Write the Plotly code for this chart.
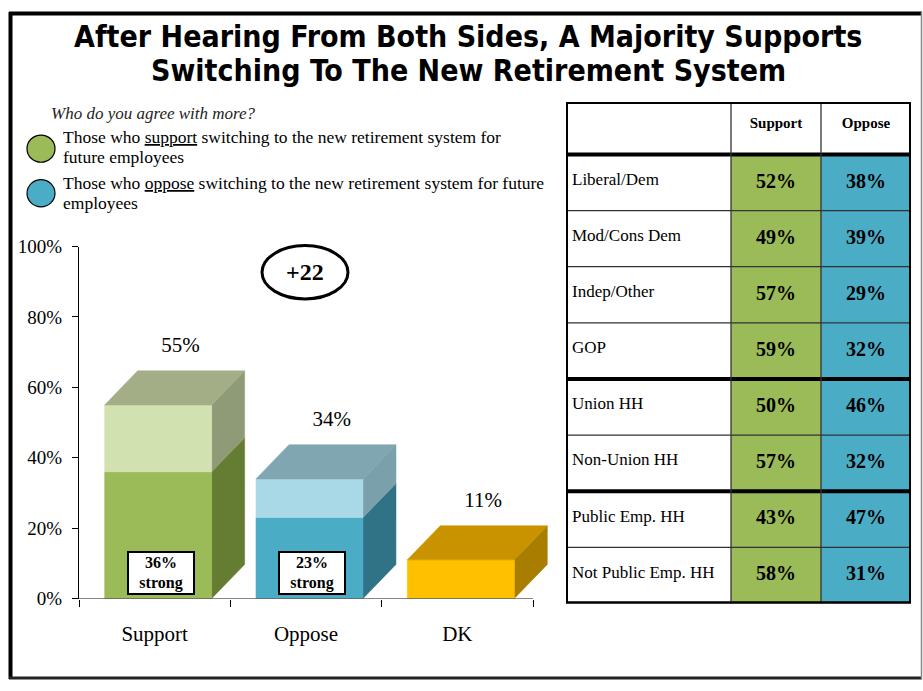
import plotly.graph_objects as go

W, H = 923, 691

# ---- survey results ----
categories = ["Support", "Oppose", "DK"]
totals = [55, 34, 11]
strong = [36, 23, None]
margin_label = "+22"
y_ticks = [0, 20, 40, 60, 80, 100]

question = "Who do you agree with more?"
legend_lines = [
    ["Those who <u>support</u> switching to the new retirement system for",
     "future employees"],
    ["Those who <u>oppose</u> switching to the new retirement system for future",
     "employees"],
]

groups = ["Liberal/Dem", "Mod/Cons Dem", "Indep/Other", "GOP",
          "Union HH", "Non-Union HH", "Public Emp. HH", "Not Public Emp. HH"]
group_support = [52, 49, 57, 59, 50, 57, 43, 58]
group_oppose = [38, 39, 29, 32, 46, 32, 47, 31]
table_header = ["Support", "Oppose"]
section_starts = [4, 6]

title_lines = ["After Hearing From Both Sides, A Majority Supports",
               "Switching To The New Retirement System"]

SERIF = "Liberation Serif, Times New Roman, serif"
TITLE_FONT = "DejaVu Sans Condensed, DejaVu Sans, sans-serif"
GREEN = "#9BBB59"
BLUE = "#4BACC6"

palettes = [
    dict(strong="#9BBB59", soft="#D2E1B0", side_strong="#647D33", side_soft="#8E9B76", top="#A3AD86"),
    dict(strong="#4BACC6", soft="#A9D9E6", side_strong="#307387", side_soft="#7AA0AB", top="#7FA6B1"),
    dict(strong="#FFC000", soft="#FFC000", side_strong="#A87D00", side_soft="#A87D00", top="#C99300"),
]


def px(x):
    return x / W


def py(y):
    return 1 - y / H


# 3D box geometry (category units / percent units)
BAR_W = 0.707
BAR_OFF = 0.023
DX = 0.218
DY = 9.7

fig = go.Figure()


def poly(xs, ys, color):
    fig.add_trace(go.Scatter(
        x=xs + [xs[0]], y=ys + [ys[0]], mode="lines", fill="toself",
        fillcolor=color, line=dict(width=0.5, color=color),
        hoverinfo="skip", showlegend=False, xaxis="x", yaxis="y"))


for i, (cat, tot, st) in enumerate(zip(categories, totals, strong)):
    pal = palettes[i]
    x0 = i + BAR_OFF - BAR_W / 2
    x1 = x0 + BAR_W
    segs = [(0, st, "strong"), (st, tot, "soft")] if st else [(0, tot, "strong")]
    for lo, hi, kind in segs:
        poly([x1, x1 + DX, x1 + DX, x1], [lo, lo + DY, hi + DY, hi], pal["side_" + kind])
        poly([x0, x1, x1, x0], [lo, lo, hi, hi], pal[kind])
    poly([x0, x1, x1 + DX, x0 + DX], [tot, tot, tot + DY, tot + DY], pal["top"])

# total labels above the boxes
fig.add_trace(go.Scatter(
    x=[i + 0.17 for i in range(len(categories))],
    y=[t + 16.5 for t in totals],
    text=[f"{t}%" for t in totals], mode="text",
    textfont=dict(family=SERIF, size=21, color="black"),
    hoverinfo="skip", showlegend=False, xaxis="x", yaxis="y"))

annotations = []
shapes = []

# "strong" boxes on the front faces
for i, st in enumerate(strong):
    if st is None:
        continue
    annotations.append(dict(
        x=i + 0.04, y=7.4, xref="x", yref="y", showarrow=False,
        text=f"<b>{st}%<br>strong</b>", align="center",
        font=dict(family=SERIF, size=16, color="black"),
        bgcolor="white", bordercolor="black", borderwidth=2, borderpad=0,
        width=64, height=40))

# x-axis baseline
shapes.append(dict(type="line", xref="x", yref="y", x0=-0.5, x1=2.5, y0=0, y1=0,
                   line=dict(color="black", width=1)))

# net margin in an ellipse
shapes.append(dict(type="circle", xref="paper", yref="paper",
                   x0=px(262), x1=px(348), y0=py(243), y1=py(298),
                   line=dict(color="black", width=3)))
annotations.append(dict(x=px(305), y=py(270), xref="paper", yref="paper",
                        text=f"<b>{margin_label}</b>", showarrow=False,
                        xanchor="center", yanchor="middle",
                        font=dict(family=SERIF, size=24, color="black")))

# title
for line, yc in zip(title_lines, [27, 62]):
    annotations.append(dict(x=px(468), y=py(yc), xref="paper", yref="paper",
                            text=f"<b>{line}</b>", showarrow=False,
                            xanchor="center", yanchor="middle",
                            font=dict(family=TITLE_FONT, size=30, color="black")))

# question + colour key
annotations.append(dict(x=px(49), y=py(107), xref="paper", yref="paper",
                        text=f"<i>{question}</i>", showarrow=False,
                        xanchor="left", yanchor="middle",
                        font=dict(family=SERIF, size=17, color="#222")))
for lines, col, ys, cy in zip(legend_lines, [GREEN, BLUE],
                              [[131, 152], [178, 199]], [143, 189]):
    for line, yc in zip(lines, ys):
        annotations.append(dict(x=px(61), y=py(yc), xref="paper", yref="paper",
                                text=line, showarrow=False, align="left",
                                xanchor="left", yanchor="middle",
                                font=dict(family=SERIF, size=17.5, color="black")))
    shapes.append(dict(type="circle", xref="paper", yref="paper",
                       x0=px(27), x1=px(55), y0=py(cy - 14), y1=py(cy + 14),
                       fillcolor=col, line=dict(color="black", width=1.2)))

# ---- crosstab table (x2/y2 in pixel-like units) ----
col_edges = [0, 165, 255, 345]
HEAD_H = 54
ROW_H = 57.9
n = len(groups)
row_edges = [0, HEAD_H] + [HEAD_H + ROW_H * (r + 1) for r in range(n)]
bottom = row_edges[-1]

z = [[0, 0, 0]] + [[0, 1, 2] for _ in groups]
fig.add_trace(go.Heatmap(
    x=col_edges, y=row_edges, z=z, zmin=0, zmax=2,
    colorscale=[[0, "white"], [0.333, "white"], [0.333, GREEN], [0.667, GREEN],
                [0.667, BLUE], [1, BLUE]],
    showscale=False, hoverinfo="skip", xaxis="x2", yaxis="y2"))

row_mid = [(row_edges[r + 1] + row_edges[r + 2]) / 2 for r in range(n)]
fig.add_trace(go.Scatter(
    x=[6] * n, y=[m - 2 for m in row_mid], text=groups, mode="text",
    textposition="middle right",
    textfont=dict(family=SERIF, size=17, color="black"),
    hoverinfo="skip", showlegend=False, xaxis="x2", yaxis="y2"))
for c, vals in zip([1, 2], [group_support, group_oppose]):
    xm = (col_edges[c] + col_edges[c + 1]) / 2
    fig.add_trace(go.Scatter(
        x=[xm] * n, y=row_mid, text=[f"<b>{v}%</b>" for v in vals], mode="text",
        textfont=dict(family=SERIF, size=20, color="black"),
        hoverinfo="skip", showlegend=False, xaxis="x2", yaxis="y2"))
fig.add_trace(go.Scatter(
    x=[(col_edges[c] + col_edges[c + 1]) / 2 for c in [1, 2]],
    y=[HEAD_H / 2 - 4] * 2, text=[f"<b>{h}</b>" for h in table_header], mode="text",
    textfont=dict(family=SERIF, size=15, color="black"),
    hoverinfo="skip", showlegend=False, xaxis="x2", yaxis="y2"))

thick_rows = {0, 1, n + 1} | {s + 1 for s in section_starts}
for r, ye in enumerate(row_edges):
    shapes.append(dict(type="line", xref="x2", yref="y2", x0=0, x1=col_edges[-1],
                       y0=ye, y1=ye,
                       line=dict(color="black" if r in thick_rows else "#333",
                                 width=4 if r in thick_rows else 1.3)))
for xe in col_edges[1:-1]:
    shapes.append(dict(type="line", xref="x2", yref="y2", x0=xe, x1=xe, y0=0, y1=bottom,
                       line=dict(color="#333", width=1.3)))
shapes.append(dict(type="rect", xref="x2", yref="y2", x0=0, x1=col_edges[-1],
                   y0=0, y1=bottom, line=dict(color="black", width=4)))

# page frame
shapes += [
    dict(type="line", xref="paper", yref="paper", x0=px(10.5), x1=px(10.5),
         y0=py(2), y1=py(690), line=dict(color="black", width=4)),
    dict(type="line", xref="paper", yref="paper", x0=px(9), x1=px(922),
         y0=py(3.5), y1=py(3.5), line=dict(color="black", width=4)),
    dict(type="line", xref="paper", yref="paper", x0=px(9), x1=px(922),
         y0=py(689), y1=py(689), line=dict(color="#222", width=3)),
    dict(type="line", xref="paper", yref="paper", x0=px(921.5), x1=px(921.5),
         y0=py(2), y1=py(690), line=dict(color="#888", width=1.5)),
]

unit = (533 - 79) / 3.0
fig.update_layout(
    width=W, height=H, margin=dict(l=0, r=0, t=0, b=0),
    paper_bgcolor="white", plot_bgcolor="rgba(0,0,0,0)",
    showlegend=False,
    xaxis=dict(domain=[px(79), px(79 + unit * 3.25)], range=[-0.5, 2.75],
               showgrid=False, zeroline=False, showline=False,
               tickmode="array", tickvals=list(range(len(categories))),
               ticktext=categories, ticks="", ticklabelstandoff=20,
               tickfont=dict(family=SERIF, size=21, color="black"),
               minor=dict(tickmode="array", tickvals=[-0.5, 0.5, 1.5, 2.5],
                          ticks="outside", ticklen=7, tickcolor="black", tickwidth=1),
               fixedrange=True),
    yaxis=dict(domain=[1 - 607 / H, 1 - 244 / H], range=[0, 100],
               showgrid=False, zeroline=False, showline=True, linecolor="black",
               linewidth=1, tickmode="array", tickvals=y_ticks,
               ticktext=[f"{v}%" for v in y_ticks], ticks="outside", ticklen=6,
               tickcolor="black", ticklabelstandoff=6,
               tickfont=dict(family=SERIF, size=19, color="black"), fixedrange=True),
    xaxis2=dict(domain=[px(566), px(911)], range=[0, col_edges[-1]], visible=False,
                anchor="y2", fixedrange=True),
    yaxis2=dict(domain=[py(612), py(95)], range=[bottom, 0], visible=False,
                anchor="x2", fixedrange=True),
    annotations=annotations, shapes=shapes,
)

fig.write_html("out.html")
